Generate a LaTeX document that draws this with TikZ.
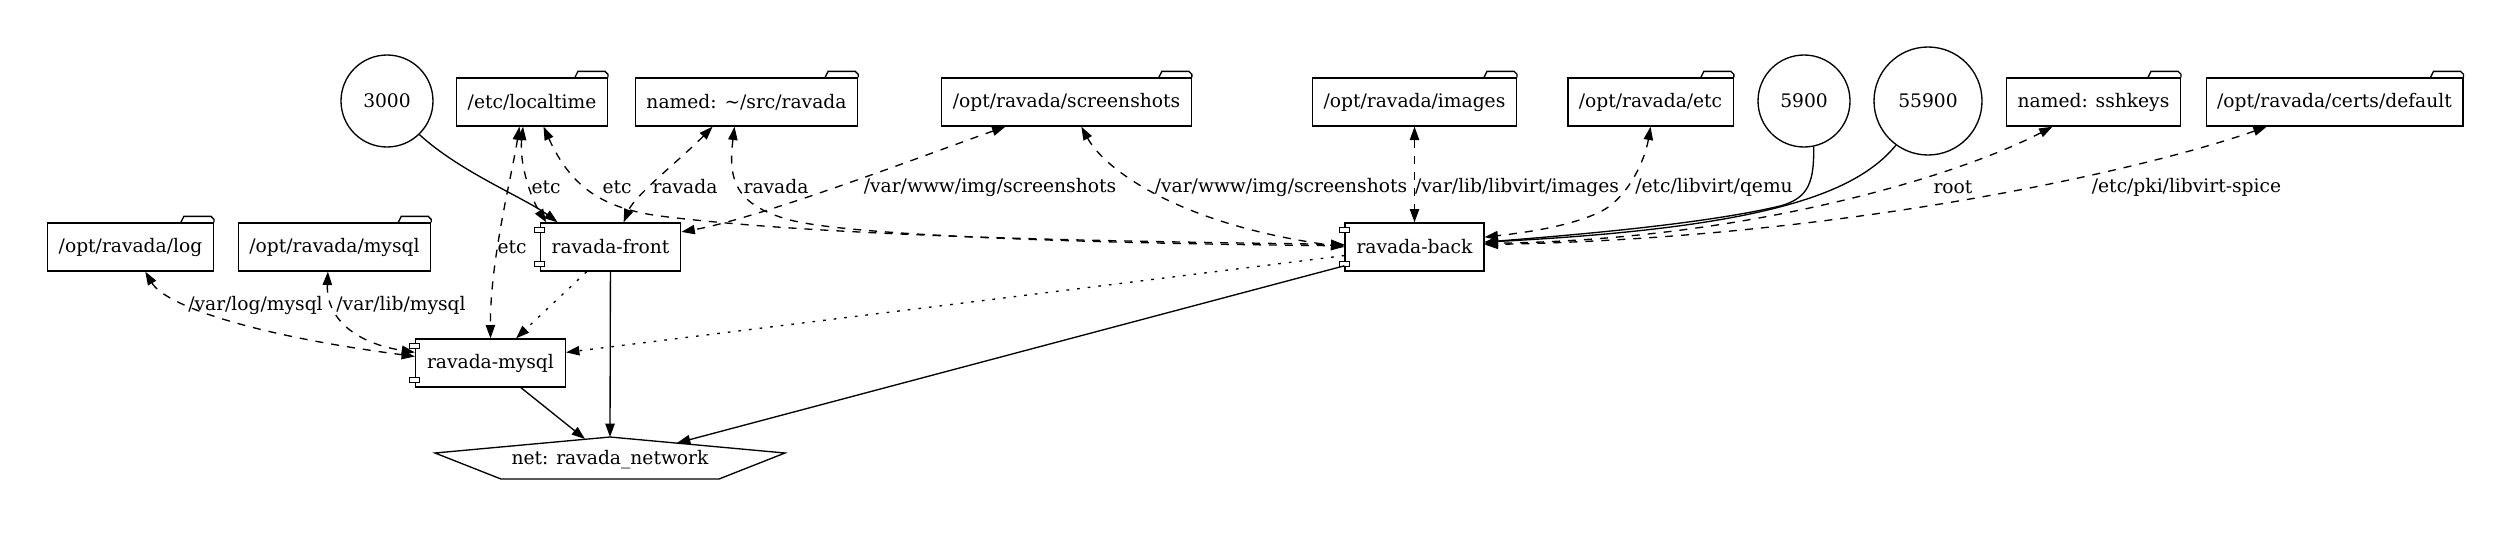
\documentclass[tikz,border=0pt]{standalone}
\usepackage{fontspec}
\setmainfont{DejaVu Serif}
\usetikzlibrary{arrows.meta}

\begin{document}
\begin{tikzpicture}[
    x=0.75bp, y=-0.75bp,
    >={Triangle[length=10bp, width=7bp]},
    every node/.style={font=\fontsize{14bp}{17bp}\selectfont},
    volume/.style={draw, line width=1bp, minimum height=36bp, inner xsep=8.25bp, inner ysep=0pt},
    port/.style={draw, circle, line width=1bp, minimum size=69bp, inner sep=0pt},
    service/.style={draw, line width=1bp, minimum height=36bp, inner xsep=8.6bp, inner ysep=0pt},
    netname/.style={inner sep=0pt},
    mountname/.style={inner sep=0pt},
    mountlink/.style={<->, line width=1bp, dash pattern=on 6bp off 6bp},
    wire/.style={->, line width=1bp},
    dep/.style={->, line width=1bp, dash pattern=on 2bp off 6bp}
]
\useasboundingbox (0,0) rectangle (2512,533);

\node[port] (p3000) at (387,101) {3000};
\node[volume] (localtime) at (532,102) {/etc/localtime};
\node[volume] (srcvol) at (746.5,102) {named: \textasciitilde/src/ravada};
\node[volume] (shots) at (1066.5,102) {/opt/ravada/screenshots};
\node[volume] (images) at (1414.5,102) {/opt/ravada/images};
\node[volume] (optetc) at (1650.5,102) {/opt/ravada/etc};
\node[port] (p5900) at (1804,101) {5900};
\node[port, minimum size=81bp] (p55900) at (1928,101) {55900};
\node[volume] (sshkeys) at (2093.5,102) {named: sshkeys};
\node[volume] (certs) at (2334.5,102) {/opt/ravada/certs/default};
\node[volume] (logdir) at (130.5,247) {/opt/ravada/log};
\node[volume] (mysqldir) at (334.5,247) {/opt/ravada/mysql};

\node[service] (front) at (610.5,247) {ravada-front};
\node[service] (back) at (1414.5,247) {ravada-back};
\node[service] (mysql) at (490.5,363) {ravada-mysql};
\node[netname] (net) at (610,460) {net: ravada\_network};

\foreach \v in {localtime,srcvol,shots,images,optetc,sshkeys,certs,logdir,mysqldir}
  \draw[line width=1bp] (\v.north east) ++(-33,0) -- ++(3,-6) -- ++(27,0) -- ++(3,3) -- ++(0,3);
\foreach \s in {front,back,mysql} {
  \draw[line width=0.75bp, fill=white] (\s.north west) ++(-5,5) rectangle ++(10,5);
  \draw[line width=0.75bp, fill=white] (\s.south west) ++(-5,-10) rectangle ++(10,5);
}
\draw[line width=1bp] (net.center) ++(0,-23) coordinate (nettop) -- ++(175,16) -- ++(-66,26)
  -- ++(-218,0) -- ++(-66,-26) -- cycle;
\path (net.center) ++(-25,-21) coordinate (netleft) (net.center) ++(67,-17) coordinate (netright);

\node[mountname] (lEtcFront) at (546,187) {etc};
\node[mountname] (lEtcBack) at (617,187) {etc};
\node[mountname] (lEtcMysql) at (512,247) {etc};
\node[mountname] (lSrcFront) at (685,187) {ravada};
\node[mountname] (lSrcBack) at (776,187) {ravada};
\node[mountname] (lShotsFront) at (990,187) {/var/www/img/screenshots};
\node[mountname] (lShotsBack) at (1281,187) {/var/www/img/screenshots};
\node[mountname] (lImages) at (1517,187) {/var/lib/libvirt/images};
\node[mountname] (lQemu) at (1714,187) {/etc/libvirt/qemu};
\node[mountname] (lRoot) at (1953,187) {root};
\node[mountname] (lSpice) at (2186.5,187) {/etc/pki/libvirt-spice};
\node[mountname] (lLog) at (255.5,305) {/var/log/mysql};
\node[mountname] (lLib) at (401,305) {/var/lib/mysql};

\draw[wire] (p3000.314) .. controls (460,172) and (525,198) .. (front.155);
\draw[mountlink] (localtime.250) .. controls (519,165) and (532,200) .. (front.159);
\draw[mountlink] (localtime.243) .. controls (512,175) and (490,260) .. (mysql.north);
\draw[mountlink] (localtime.295) .. controls (570,185) and (600,208) .. (660,216)
  .. controls (850,240) and (1200,242) .. (back.178);
\draw[mountlink] (srcvol.216) .. controls (680,160) and (635,195) .. (front.62);
\draw[mountlink] (srcvol.244) .. controls (728,180) and (735,205) .. (790,220)
  .. controls (860,238) and (1150,244) .. (back.179);
\draw[mountlink] (shots.202) .. controls (925,155) and (760,218) .. (front.12);
\draw[mountlink] (shots.301) .. controls (1105,170) and (1180,225) .. (back.180);
\draw[mountlink] (images) -- (back);
\draw[mountlink] (optetc.south) .. controls (1645,160) and (1628,198) .. (1600,212)
  .. controls (1570,226) and (1530,232) .. (back.8);
\draw[wire] (p5900.282) .. controls (1814,180) and (1810,198) .. (1780,206)
  .. controls (1700,225) and (1560,236) .. (back.4);
\draw[wire] (p55900.234) .. controls (1855,195) and (1760,228) .. (back.4);
\draw[mountlink] (sshkeys.211) .. controls (1960,175) and (1750,240) .. (back.3);
\draw[mountlink] (certs.200) .. controls (2150,168) and (1850,238) .. (back.2);
\draw[mountlink] (logdir.301) .. controls (165,305) and (250,335) .. (mysql.175);
\draw[mountlink] (mysqldir.255) .. controls (326,318) and (355,343) .. (mysql.172);
\draw[dep] (front.226) -- (mysql.44);
\draw[dep] (back.187) -- (mysql.8);
\draw[wire] (front) -- (nettop);
\draw[wire] (mysql.321) -- (netleft);
\draw[wire] (back.195) -- (netright);
\end{tikzpicture}
\end{document}
